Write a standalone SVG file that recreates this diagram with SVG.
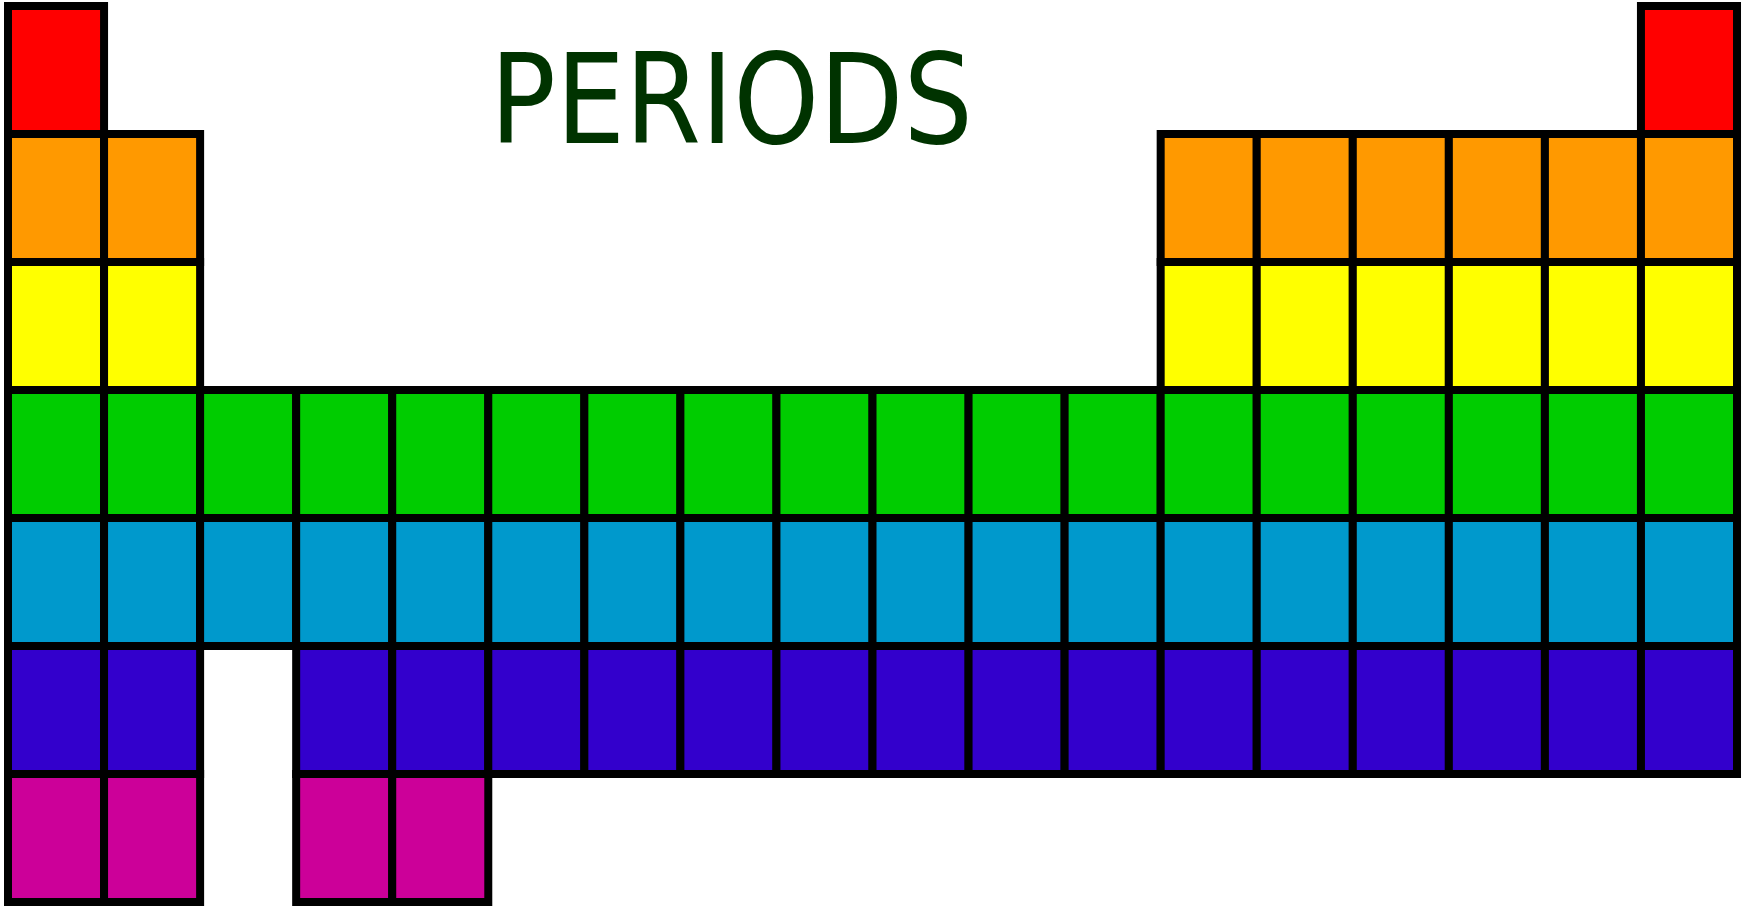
<svg xmlns="http://www.w3.org/2000/svg" width="1748" height="909" viewBox="0 0 1748 909">
<style>
rect.c{stroke:#000;stroke-width:8;width:96.06px;height:128px}
.p1{fill:#FF0000}.p2{fill:#FF9900}.p3{fill:#FFFF00}.p4{fill:#00CC00}.p5{fill:#0099CC}.p6{fill:#3300CC}.p7{fill:#CC0099}
.t{font-family:"DejaVu Sans","Liberation Sans",sans-serif;font-size:124px;fill:#003300}
</style>
<rect x="0" y="0" width="1748" height="909" fill="#fff"/>
<g id="period1" class="p1">
<rect class="c" x="8" y="6" width="96.06" height="128"/>
<rect class="c" x="1640.95" y="6" width="96.06" height="128"/>
</g>
<g id="period2" class="p2">
<rect class="c" x="8" y="134" width="96.06" height="128"/>
<rect class="c" x="104.06" y="134" width="96.06" height="128"/>
<rect class="c" x="1160.67" y="134" width="96.06" height="128"/>
<rect class="c" x="1256.73" y="134" width="96.06" height="128"/>
<rect class="c" x="1352.78" y="134" width="96.06" height="128"/>
<rect class="c" x="1448.84" y="134" width="96.06" height="128"/>
<rect class="c" x="1544.9" y="134" width="96.06" height="128"/>
<rect class="c" x="1640.95" y="134" width="96.06" height="128"/>
</g>
<g id="period3" class="p3">
<rect class="c" x="8" y="262" width="96.06" height="128"/>
<rect class="c" x="104.06" y="262" width="96.06" height="128"/>
<rect class="c" x="1160.67" y="262" width="96.06" height="128"/>
<rect class="c" x="1256.73" y="262" width="96.06" height="128"/>
<rect class="c" x="1352.78" y="262" width="96.06" height="128"/>
<rect class="c" x="1448.84" y="262" width="96.06" height="128"/>
<rect class="c" x="1544.9" y="262" width="96.06" height="128"/>
<rect class="c" x="1640.95" y="262" width="96.06" height="128"/>
</g>
<g id="period4" class="p4">
<rect class="c" x="8" y="390" width="96.06" height="128"/>
<rect class="c" x="104.06" y="390" width="96.06" height="128"/>
<rect class="c" x="200.11" y="390" width="96.06" height="128"/>
<rect class="c" x="296.17" y="390" width="96.06" height="128"/>
<rect class="c" x="392.22" y="390" width="96.06" height="128"/>
<rect class="c" x="488.28" y="390" width="96.06" height="128"/>
<rect class="c" x="584.34" y="390" width="96.06" height="128"/>
<rect class="c" x="680.39" y="390" width="96.06" height="128"/>
<rect class="c" x="776.45" y="390" width="96.06" height="128"/>
<rect class="c" x="872.5" y="390" width="96.06" height="128"/>
<rect class="c" x="968.56" y="390" width="96.06" height="128"/>
<rect class="c" x="1064.62" y="390" width="96.06" height="128"/>
<rect class="c" x="1160.67" y="390" width="96.06" height="128"/>
<rect class="c" x="1256.73" y="390" width="96.06" height="128"/>
<rect class="c" x="1352.78" y="390" width="96.06" height="128"/>
<rect class="c" x="1448.84" y="390" width="96.06" height="128"/>
<rect class="c" x="1544.9" y="390" width="96.06" height="128"/>
<rect class="c" x="1640.95" y="390" width="96.06" height="128"/>
</g>
<g id="period5" class="p5">
<rect class="c" x="8" y="518" width="96.06" height="128"/>
<rect class="c" x="104.06" y="518" width="96.06" height="128"/>
<rect class="c" x="200.11" y="518" width="96.06" height="128"/>
<rect class="c" x="296.17" y="518" width="96.06" height="128"/>
<rect class="c" x="392.22" y="518" width="96.06" height="128"/>
<rect class="c" x="488.28" y="518" width="96.06" height="128"/>
<rect class="c" x="584.34" y="518" width="96.06" height="128"/>
<rect class="c" x="680.39" y="518" width="96.06" height="128"/>
<rect class="c" x="776.45" y="518" width="96.06" height="128"/>
<rect class="c" x="872.5" y="518" width="96.06" height="128"/>
<rect class="c" x="968.56" y="518" width="96.06" height="128"/>
<rect class="c" x="1064.62" y="518" width="96.06" height="128"/>
<rect class="c" x="1160.67" y="518" width="96.06" height="128"/>
<rect class="c" x="1256.73" y="518" width="96.06" height="128"/>
<rect class="c" x="1352.78" y="518" width="96.06" height="128"/>
<rect class="c" x="1448.84" y="518" width="96.06" height="128"/>
<rect class="c" x="1544.9" y="518" width="96.06" height="128"/>
<rect class="c" x="1640.95" y="518" width="96.06" height="128"/>
</g>
<g id="period6" class="p6">
<rect class="c" x="8" y="646" width="96.06" height="128"/>
<rect class="c" x="104.06" y="646" width="96.06" height="128"/>
<rect class="c" x="296.17" y="646" width="96.06" height="128"/>
<rect class="c" x="392.22" y="646" width="96.06" height="128"/>
<rect class="c" x="488.28" y="646" width="96.06" height="128"/>
<rect class="c" x="584.34" y="646" width="96.06" height="128"/>
<rect class="c" x="680.39" y="646" width="96.06" height="128"/>
<rect class="c" x="776.45" y="646" width="96.06" height="128"/>
<rect class="c" x="872.5" y="646" width="96.06" height="128"/>
<rect class="c" x="968.56" y="646" width="96.06" height="128"/>
<rect class="c" x="1064.62" y="646" width="96.06" height="128"/>
<rect class="c" x="1160.67" y="646" width="96.06" height="128"/>
<rect class="c" x="1256.73" y="646" width="96.06" height="128"/>
<rect class="c" x="1352.78" y="646" width="96.06" height="128"/>
<rect class="c" x="1448.84" y="646" width="96.06" height="128"/>
<rect class="c" x="1544.9" y="646" width="96.06" height="128"/>
<rect class="c" x="1640.95" y="646" width="96.06" height="128"/>
</g>
<g id="period7" class="p7">
<rect class="c" x="8" y="774" width="96.06" height="128"/>
<rect class="c" x="104.06" y="774" width="96.06" height="128"/>
<rect class="c" x="296.17" y="774" width="96.06" height="128"/>
<rect class="c" x="392.22" y="774" width="96.06" height="128"/>
</g>
<g id="title">
<text class="t" x="490" y="143" textLength="483" lengthAdjust="spacingAndGlyphs">PERIODS</text>
</g>
</svg>
